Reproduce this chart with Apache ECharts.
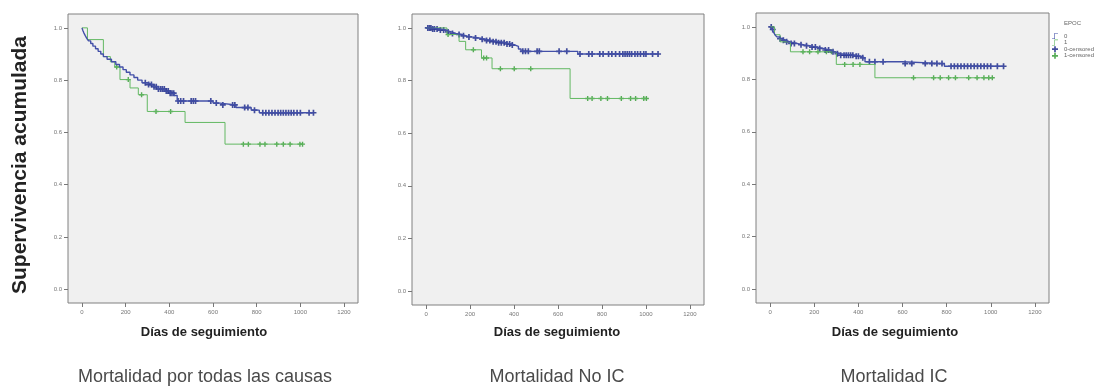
<!DOCTYPE html>
<html>
<head>
<meta charset="utf-8">
<script src="https://cdn.jsdelivr.net/npm/echarts@6.0.0/dist/echarts.min.js"></script>
<style>
  html, body { margin: 0; padding: 0; background: #fff; }
  #chart { width: 1106px; height: 387px; }
</style>
</head>
<body>
<div id="chart"></div>
<script>
// tick labels
const xTicks = [0, 200, 400, 600, 800, 1000, 1200]
const yTicks = [0, 0.2, 0.4, 0.6, 0.8, 1.0]

const panelTitles = ["Mortalidad por todas las causas", "Mortalidad No IC", "Mortalidad IC"]
const groupNames = ["0", "1", "0-censored", "1-censored"]

// Mortalidad por todas las causas: [dias, supervivencia] at each event, censored days
const allEpoc0 = [[0, 1], [4, 0.99], [9, 0.98], [15, 0.97], [22, 0.96], [30, 0.95], [40, 0.94], [50, 0.93], [62, 0.92], [74, 0.91], [86, 0.9], [98, 0.89], [115, 0.88], [135, 0.87], [155, 0.86], [172, 0.85], [188, 0.84], [203, 0.83], [220, 0.82], [238, 0.81], [255, 0.8], [275, 0.79], [300, 0.783], [325, 0.775], [350, 0.766], [378, 0.758], [402, 0.75], [422, 0.741], [436, 0.72], [600, 0.712], [632, 0.705], [705, 0.695], [775, 0.685], [812, 0.675]]
const allEpoc0Cens = [290, 305, 318, 330, 340, 350, 360, 368, 377, 386, 395, 404, 412, 420, 440, 452, 465, 500, 510, 520, 590, 615, 645, 690, 700, 745, 760, 790, 828, 842, 856, 870, 884, 898, 910, 922, 934, 946, 958, 970, 985, 1000, 1040, 1060]
const allEpoc1 = [[0, 1], [25, 0.955], [98, 0.89], [130, 0.87], [150, 0.85], [174, 0.802], [220, 0.77], [258, 0.744], [299, 0.68], [472, 0.638], [655, 0.555]]
const allEpoc1Cens = [159, 212, 273, 339, 406, 739, 762, 815, 838, 892, 922, 953, 998, 1010]

// Mortalidad No IC
const noIcEpoc0 = [[0, 1], [30, 0.996], [60, 0.992], [90, 0.985], [115, 0.979], [135, 0.975], [160, 0.97], [185, 0.966], [210, 0.962], [240, 0.957], [270, 0.952], [300, 0.948], [330, 0.944], [360, 0.939], [385, 0.935], [405, 0.93], [420, 0.92], [432, 0.911], [690, 0.901]]
const noIcEpoc0Cens = [8, 15, 22, 30, 38, 50, 65, 80, 100, 120, 150, 170, 195, 225, 255, 275, 290, 305, 318, 330, 342, 355, 368, 380, 392, 440, 452, 465, 505, 515, 605, 640, 700, 740, 755, 790, 805, 830, 845, 862, 880, 895, 905, 915, 925, 935, 950, 962, 975, 990, 1000, 1030, 1055]
const noIcEpoc1 = [[0, 1], [95, 0.975], [150, 0.949], [180, 0.917], [252, 0.886], [300, 0.845], [655, 0.732]]
const noIcEpoc1Cens = [100, 215, 262, 275, 338, 401, 476, 735, 755, 795, 825, 888, 930, 953, 990, 1002]

// Mortalidad IC
const icEpoc0 = [[0, 1], [8, 0.99], [15, 0.98], [22, 0.97], [30, 0.962], [40, 0.955], [50, 0.949], [70, 0.943], [90, 0.937], [120, 0.932], [150, 0.928], [180, 0.923], [210, 0.918], [240, 0.912], [270, 0.905], [295, 0.898], [316, 0.892], [380, 0.888], [410, 0.882], [430, 0.867], [600, 0.86], [790, 0.85]]
const icEpoc0Cens = [5, 12, 45, 60, 75, 95, 110, 140, 165, 190, 205, 225, 250, 265, 285, 305, 320, 335, 345, 355, 365, 375, 390, 400, 420, 450, 475, 512, 612, 642, 703, 733, 756, 779, 820, 835, 850, 865, 880, 895, 910, 925, 940, 955, 970, 985, 1000, 1030, 1058]
const icEpoc1 = [[0, 1], [20, 0.97], [45, 0.943], [92, 0.905], [300, 0.857], [475, 0.806]]
const icEpoc1Cens = [149, 179, 217, 255, 278, 338, 376, 407, 650, 741, 771, 809, 840, 900, 938, 969, 991, 1007]

const panels = [
  { curves: [allEpoc0, allEpoc1], cens: [allEpoc0Cens, allEpoc1Cens] },
  { curves: [noIcEpoc0, noIcEpoc1], cens: [noIcEpoc0Cens, noIcEpoc1Cens] },
  { curves: [icEpoc0, icEpoc1], cens: [icEpoc0Cens, icEpoc1Cens] },
]

const grids = [
  { left: 68, top: 14, width: 290, height: 289 },
  { left: 412, top: 14, width: 292, height: 291 },
  { left: 756, top: 13, width: 293, height: 290 },
]
const xTitleCenters = [204, 557, 895]
const subTitleCenters = [205, 557, 894]

const lineColors = ["#4350a8", "#62b862"]
const markColors = ["#2f3b92", "#46a446"]
const font = "Liberation Sans, Arial, sans-serif"

const plusPath = "path://M0,3.6H3.6V0H6.4V3.6H10V6.4H6.4V10H3.6V6.4H0Z"
const stepPath = "path://M0,9H4V0H10V1H5V10H0Z"

// survival value in effect at day t
function survAt(curve, t) {
  let s = curve[0][1]
  curve.forEach(([ct, cs]) => { if (ct <= t) s = cs })
  return s
}

const series = []
panels.forEach((p, i) => {
  // green first so blue sits on top
  ;[1, 0].forEach((g) => {
    const curve = p.curves[g]
    const cens = p.cens[g]
    const last = curve[curve.length - 1]
    const lastCens = cens[cens.length - 1]
    const lineData = lastCens > last[0] ? curve.concat([[lastCens, last[1]]]) : curve
    series.push({
      name: groupNames[g],
      type: "line",
      step: "end",
      xAxisIndex: i,
      yAxisIndex: i,
      showSymbol: false,
      silent: true,
      data: lineData,
      lineStyle: { color: lineColors[g], width: g === 0 ? 1.4 : 1 },
      itemStyle: { color: lineColors[g] },
    })
    series.push({
      name: groupNames[g + 2],
      type: "scatter",
      xAxisIndex: i,
      yAxisIndex: i,
      symbol: plusPath,
      symbolSize: g === 0 ? 6 : 5,
      silent: true,
      data: cens.map((t) => [t, survAt(curve, t)]),
      itemStyle: { color: markColors[g], opacity: 0.9 },
    })
  })
})

const graphic = []
graphic.push({
  type: "text",
  x: 20,
  y: 165,
  rotation: Math.PI / 2,
  style: { text: "Supervivencia acumulada", fill: "#222", font: "bold 21px " + font, textAlign: "center", textVerticalAlign: "middle" },
})
xTitleCenters.forEach((cx) => {
  graphic.push({
    type: "text",
    x: cx,
    y: 332,
    style: { text: "Días de seguimiento", fill: "#222", font: "bold 13px " + font, textAlign: "center", textVerticalAlign: "middle" },
  })
})
subTitleCenters.forEach((cx, i) => {
  graphic.push({
    type: "text",
    x: cx,
    y: 377,
    style: { text: panelTitles[i], fill: "#4a4a4a", font: "18px " + font, textAlign: "center", textVerticalAlign: "middle" },
  })
})
graphic.push({
  type: "text",
  x: 1064,
  y: 23,
  style: { text: "EPOC", fill: "#666", font: "6px " + font, textAlign: "left", textVerticalAlign: "middle" },
})

const option = {
  backgroundColor: "#fff",
  animation: false,
  grid: grids.map((g) => ({ ...g, show: true, backgroundColor: "#f0f0f0", borderColor: "#808080", borderWidth: 1 })),
  xAxis: grids.map((g, i) => ({
    type: "value",
    gridIndex: i,
    position: "bottom",
    min: -64,
    max: 1264,
    axisLine: { show: false, onZero: false },
    axisTick: { show: true, inside: false, length: 4, customValues: xTicks, lineStyle: { color: "#777" } },
    axisLabel: { customValues: xTicks, margin: 6, fontSize: 6, color: "#777", fontFamily: font, formatter: (v) => String(v) },
    splitLine: { show: false },
  })),
  yAxis: grids.map((g, i) => ({
    type: "value",
    gridIndex: i,
    position: "left",
    min: -0.053,
    max: 1.053,
    axisLine: { show: false, onZero: false },
    axisTick: { show: true, inside: false, length: 4, customValues: yTicks, lineStyle: { color: "#777" } },
    axisLabel: { customValues: yTicks, margin: 6, fontSize: 6, color: "#777", fontFamily: font, formatter: (v) => v.toFixed(1) },
    splitLine: { show: false },
  })),
  legend: {
    orient: "vertical",
    left: 1052,
    top: 33,
    padding: 0,
    itemWidth: 8,
    itemHeight: 6,
    itemGap: 0.6,
    selectedMode: false,
    textStyle: { fontSize: 6, color: "#666", fontFamily: font },
    data: [
      { name: "0", icon: stepPath },
      { name: "1", icon: stepPath },
      { name: "0-censored", icon: plusPath },
      { name: "1-censored", icon: plusPath },
    ],
  },
  graphic,
  series,
}

const chart = echarts.init(document.getElementById("chart"))
chart.setOption(option)
</script>
</body>
</html>
